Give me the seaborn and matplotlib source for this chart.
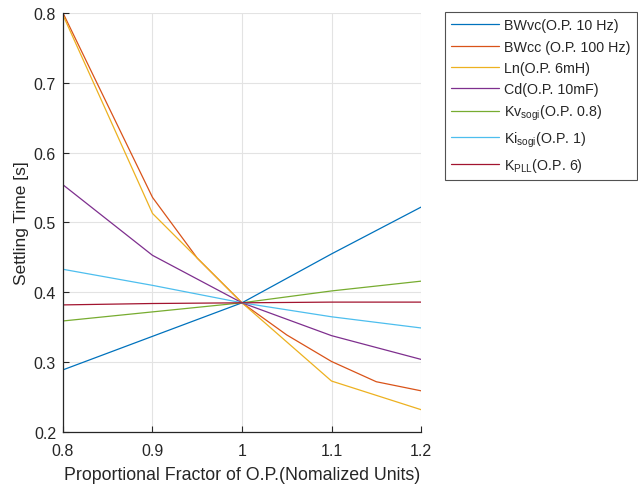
import matplotlib
matplotlib.use("Agg")
import matplotlib.pyplot as plt
import numpy as np
import pandas as pd
import seaborn as sns

# Settling time vs. proportional factor of each operating-point parameter
labels = [
    "BWvc(O.P. 10 Hz)",
    "BWcc (O.P. 100 Hz)",
    "Ln(O.P. 6mH)",
    "Cd(O.P. 10mF)",
    r"Kv$_{\mathrm{sogi}}$(O.P. 0.8)",
    r"Ki$_{\mathrm{sogi}}$(O.P. 1)",
    r"K$_{\mathrm{PLL}}$(O.P. 6)",
]

bwvc_x = [0.8, 0.9, 1.0, 1.1, 1.2]
bwvc_y = [0.289, 0.337, 0.385, 0.455, 0.522]

bwcc_x = [0.8, 0.9, 0.95, 1.0, 1.05, 1.1, 1.15, 1.2]
bwcc_y = [0.800, 0.536, 0.449, 0.385, 0.339, 0.301, 0.272, 0.259]

ln_x = [0.8, 0.9, 0.95, 1.0, 1.1, 1.2]
ln_y = [0.797, 0.513, 0.449, 0.385, 0.273, 0.232]

cd_x = [0.8, 0.9, 1.0, 1.1, 1.2]
cd_y = [0.554, 0.453, 0.385, 0.338, 0.304]

kv_x = [0.8, 0.9, 1.0, 1.1, 1.2]
kv_y = [0.359, 0.372, 0.385, 0.402, 0.416]

ki_x = [0.8, 0.9, 1.0, 1.1, 1.2]
ki_y = [0.433, 0.410, 0.385, 0.365, 0.349]

kpll_x = [0.8, 0.9, 1.0, 1.1, 1.2]
kpll_y = [0.382, 0.384, 0.385, 0.386, 0.386]

series_x = [bwvc_x, bwcc_x, ln_x, cd_x, kv_x, ki_x, kpll_x]
series_y = [bwvc_y, bwcc_y, ln_y, cd_y, kv_y, ki_y, kpll_y]

colors = ["#0072BD", "#D95319", "#EDB120", "#7E2F8E", "#77AC30", "#4DBEEE", "#A2142F"]

x_ticks = [0.8, 0.9, 1.0, 1.1, 1.2]
x_tick_labels = ["0.8", "0.9", "1", "1.1", "1.2"]
y_ticks = [0.2, 0.3, 0.4, 0.5, 0.6, 0.7, 0.8]
y_tick_labels = ["0.2", "0.3", "0.4", "0.5", "0.6", "0.7", "0.8"]

frames = []
for name, xs, ys in zip(labels, series_x, series_y):
    frames.append(pd.DataFrame({"factor": xs, "time": ys, "param": name}))
df = pd.concat(frames, ignore_index=True)

sns.set_theme(style="white")
plt.rcParams["font.family"] = ["Liberation Sans", "DejaVu Sans"]
plt.rcParams["mathtext.fontset"] = "custom"
plt.rcParams["mathtext.rm"] = "Liberation Sans"
plt.rcParams["mathtext.it"] = "Liberation Sans"

fig = plt.figure(figsize=(6.38, 4.89), dpi=100)
ax = fig.add_axes([0.0987, 0.1145, 0.5612, 0.8569])

sns.lineplot(
    data=df, x="factor", y="time", hue="param", hue_order=labels,
    palette=dict(zip(labels, colors)), sort=False, estimator=None,
    linewidth=0.9, ax=ax, legend=True,
)

ax.set_xlim(0.8, 1.2)
ax.set_ylim(0.2, 0.8)
ax.set_xticks(x_ticks)
ax.set_xticklabels(x_tick_labels)
ax.set_yticks(y_ticks)
ax.set_yticklabels(y_tick_labels)
ax.grid(True, color="#e3e3e3", linewidth=0.8)
ax.set_axisbelow(True)

for side in ["top", "right"]:
    ax.spines[side].set_visible(False)
for side in ["left", "bottom"]:
    ax.spines[side].set_color("#262626")
    ax.spines[side].set_linewidth(0.9)

ax.tick_params(axis="both", direction="in", length=4, width=0.8,
               colors="#262626", labelsize=11.5, bottom=True, left=True)
ax.tick_params(axis="x", pad=8)
ax.tick_params(axis="y", pad=5)
ax.set_xlabel("Proportional Fractor of O.P.(Nomalized Units)",
              fontsize=12.8, color="#262626", labelpad=6)
ax.set_ylabel("Settling Time [s]", fontsize=12.5, color="#262626", labelpad=3)

handles, lbls = ax.get_legend_handles_labels()
ax.legend(
    handles, lbls, loc="upper left", bbox_to_anchor=(445 / 638, 1 - 13 / 489),
    bbox_transform=fig.transFigure, frameon=True, fancybox=False,
    edgecolor="#262626", fontsize=10.3, handlelength=3.3, handletextpad=0.35,
    borderpad=0.45, labelspacing=0.5, borderaxespad=0,
)
ax.get_legend().get_frame().set_linewidth(0.8)

fig.savefig("out.png", dpi=100)
